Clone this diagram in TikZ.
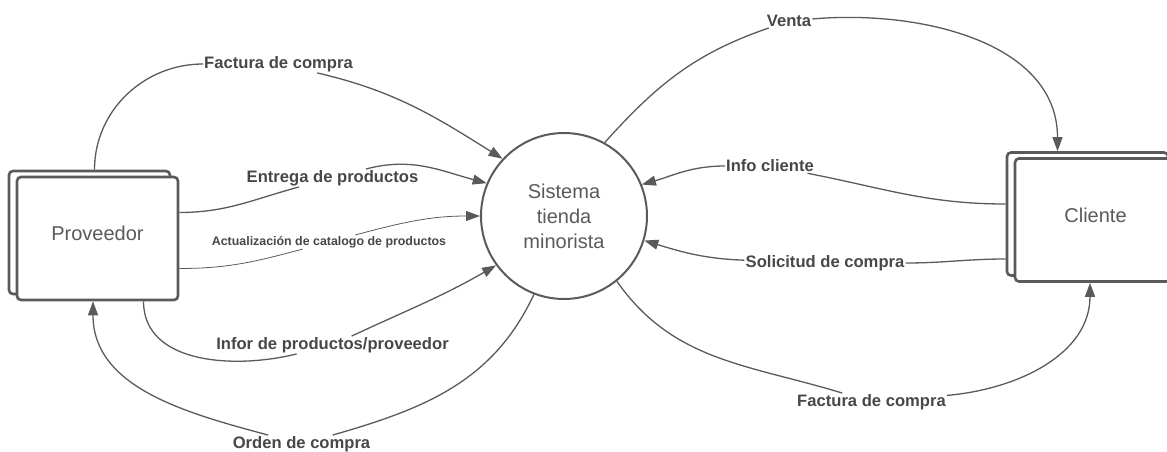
\documentclass[tikz,border=0pt]{standalone}
\usepackage{fontspec}
\setmainfont{Liberation Sans}
\usetikzlibrary{arrows.meta,shadows}
\definecolor{ink}{HTML}{5A5A5A}
\definecolor{txt}{HTML}{474747}

\begin{document}
\begin{tikzpicture}[x=1pt, y=1pt,
  entity/.style={draw=ink, line width=2.6pt, fill=white, rounded corners=4pt,
    minimum width=161pt, minimum height=123pt, text=ink, text depth=10pt,
    font=\fontsize{20}{24}\selectfont,
    copy shadow={shadow xshift=-8pt, shadow yshift=6pt, draw=ink, fill=white, line width=2.6pt}},
  process/.style={circle, draw=ink, line width=2pt, minimum size=166pt, align=center,
    text=ink, font=\fontsize{20}{25}\selectfont},
  flow/.style={draw=ink, line width=1.3pt, -{Triangle[length=14pt,width=10pt]}},
  lbl/.style={text=txt, font=\bfseries\fontsize{16.6}{19}\selectfont, inner sep=1pt}
]
  \useasboundingbox (0,0) rectangle (1167,451);

  % Entities and process
  \node[entity] (prov) at (97.5,212.5) {Proveedor};
  \node[entity] (cli) at (1095.5,231) {Cliente};
  \node[process] (sys) at (564,235) {Sistema\\tienda\\minorista};

  % Flow labels
  \node[lbl] (fcA) at (278.5,387) {Factura de compra};
  \node[lbl] (ent) at (332.5,273) {Entrega de productos};
  \node[lbl, font=\bfseries\fontsize{12.4}{14}\selectfont] (act) at (329,209) {Actualización de catalogo de productos};
  \node[lbl] (inf) at (332.5,106) {Infor de productos/proveedor};
  \node[lbl] (ord) at (301.5,7) {Orden de compra};
  \node[lbl] (venta) at (789,430) {Venta};
  \node[lbl] (infc) at (770,285) {Info cliente};
  \node[lbl] (sol) at (825,188) {Solicitud de compra};
  \node[lbl] (fcB) at (871.5,49) {Factura de compra};

  % Proveedor side
  \draw[flow] ([xshift=-3pt,yshift=6pt]prov.north) to[out=90,in=180] (fcA) to[out=-13,in=148] (sys.137);
  \draw[flow] ([yshift=26pt]prov.east) to[out=0,in=195] (ent) to[out=15,in=165] (sys.157);
  \draw[flow, line width=0.8pt] ([yshift=-30pt]prov.east) to[out=0,in=195] (act) to[out=15,in=180] (sys.180);
  \draw[flow] ([xshift=46pt]prov.south) to[out=-90,in=194] (inf) to[out=25,in=210] (sys.216);
  \draw[flow] (sys.249) to[out=245,in=16] (ord) to[out=165,in=-90] ([xshift=-4.5pt]prov.south);

  % Cliente side
  \draw[flow] (sys.61) to[out=48,in=199] (venta) to[out=5,in=90] ([xshift=-38pt,yshift=6pt]cli.north);
  \draw[flow] ([xshift=-8pt,yshift=16pt]cli.west) to[out=180,in=-11] (infc) to[out=180,in=16] (sys.22);
  \draw[flow] ([xshift=-8pt,yshift=-39pt]cli.west) to[out=180,in=0] (sol) to[out=178,in=-17] (sys.343);
  \draw[flow] (sys.309) to[out=-55,in=163] (fcB) to[out=5,in=-90] ([xshift=-5.5pt]cli.south);

\end{tikzpicture}
\end{document}
